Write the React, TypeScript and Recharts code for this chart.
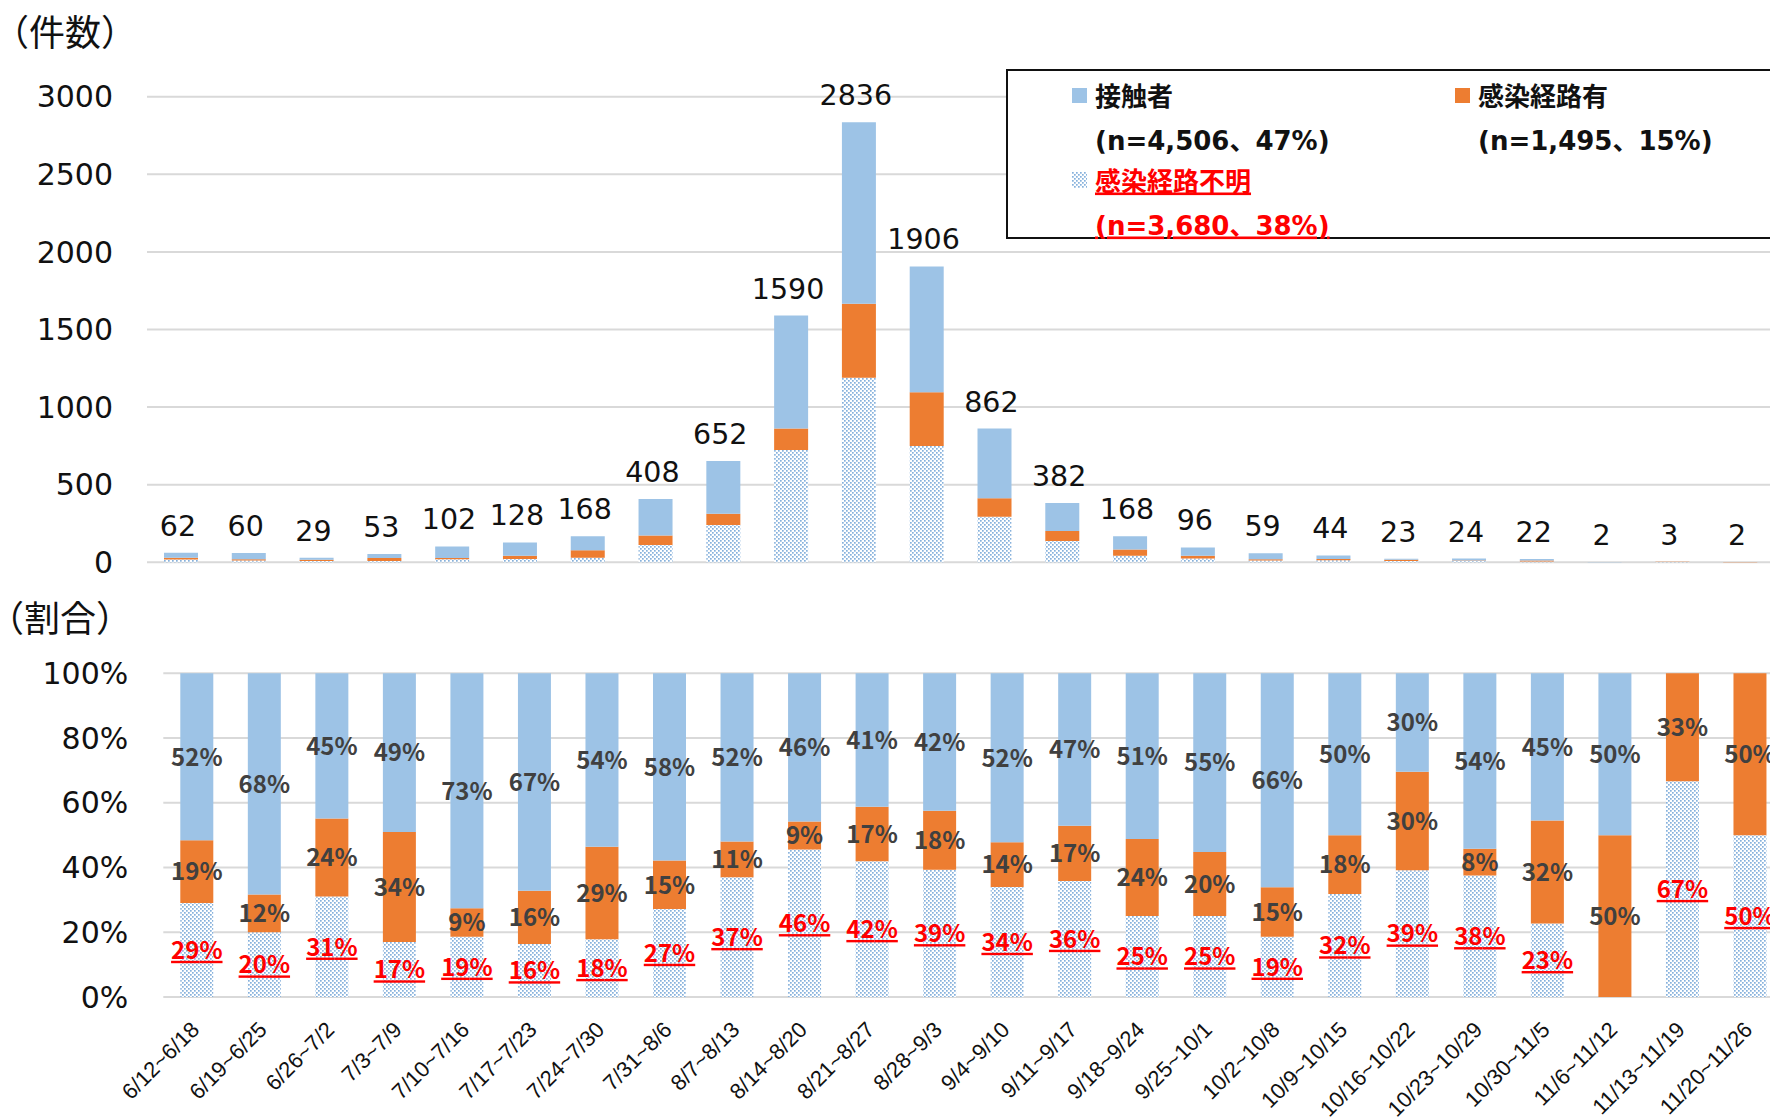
import React from 'react';
import { ComposedChart, BarChart, Bar, Line, XAxis, YAxis, CartesianGrid, LabelList } from 'recharts';

const weeks = ['6/12~6/18', '6/19~6/25', '6/26~7/2', '7/3~7/9', '7/10~7/16', '7/17~7/23', '7/24~7/30', '7/31~8/6', '8/7~8/13', '8/14~8/20', '8/21~8/27', '8/28~9/3', '9/4~9/10', '9/11~9/17', '9/18~9/24', '9/25~10/1', '10/2~10/8', '10/9~10/15', '10/16~10/22', '10/23~10/29', '10/30~11/5', '11/6~11/12', '11/13~11/19', '11/20~11/26'];
const contact = [32, 41, 13, 26, 74, 86, 90, 236, 339, 728, 1170, 810, 450, 180, 86, 53, 39, 22, 7, 13, 10, 1, 0, 0];
const linked = [12, 7, 7, 18, 9, 21, 48, 61, 72, 138, 477, 346, 119, 65, 40, 19, 9, 8, 7, 2, 7, 1, 1, 1];
const unknown = [18, 12, 9, 9, 19, 21, 30, 111, 241, 724, 1189, 750, 293, 137, 42, 24, 11, 14, 9, 9, 5, 0, 2, 1];

const countTicks = [0, 500, 1000, 1500, 2000, 2500, 3000];
const shareTicks = [0, 0.2, 0.4, 0.6, 0.8, 1];

const legendNames = ['接触者', '感染経路有', '感染経路不明'];
const legendCounts = ['(n=4,506、47%)', '(n=1,495、15%)', '(n=3,680、38%)'];

const BLUE = '#9DC3E6';
const ORANGE = '#ED7D31';
const DOT = '#86B1DC';
const RED = '#FF0000';
const DARK = '#404040';
const GRID = '#D9D9D9';
const LATIN = "'DejaVu Sans', 'Noto Sans CJK JP', sans-serif";
const CJK = "'Noto Sans CJK JP', sans-serif";

const totals = weeks.map((_, i) => contact[i] + linked[i] + unknown[i]);
const pct = (arr: number[]) => arr.map((v, i) => Math.round((v / totals[i]) * 100));
const contactPct = pct(contact);
const linkedPct = pct(linked);
const unknownPct = pct(unknown);

const data = weeks.map((w, i) => ({
  week: w,
  contact: contact[i],
  linked: linked[i],
  unknown: unknown[i],
  total: totals[i],
  contactPct: contactPct[i],
  linkedPct: linkedPct[i],
  unknownPct: unknownPct[i],
}));

const TotalLabel = (props: any) => {
  const { x, y, value } = props;
  if (x == null || y == null) return null;
  return (
    <text x={x - 3} y={y - 17} textAnchor="middle" fontFamily={LATIN} fontSize={28.5} fill="#111">
      {value}
    </text>
  );
};

const makePctLabel = (color: string, underline: boolean) => (props: any) => {
  const vb = props.viewBox || {};
  const x = props.x ?? vb.x;
  const y = props.y ?? vb.y;
  const w = props.width ?? vb.width;
  const h = props.height ?? vb.height;
  const value = props.value;
  if (!value) return null;
  const cx = x + w / 2;
  const cy = y + h / 2;
  return (
    <text
      x={cx}
      y={cy + 8.8}
      textAnchor="middle"
      fontFamily={CJK}
      fontWeight={700}
      fontSize={24}
      fill={color}
      textDecoration={underline ? 'underline' : undefined}
    >
      {value}%
    </text>
  );
};

const WeekTick = (props: any) => {
  const { x, y, payload } = props;
  const ax = x + 3.5;
  const ay = y + 34;
  return (
    <text
      x={ax}
      y={ay}
      textAnchor="end"
      transform={`rotate(-45, ${ax}, ${ay})`}
      fontFamily="'Liberation Sans', sans-serif"
      fontSize={22}
      fill="#111"
    >
      {payload.value}
    </text>
  );
};

export default function App() {
  return (
    <div style={{ position: 'fixed', left: 0, top: 0, width: 1770, height: 1118, overflow: 'hidden', background: '#fff' }}>
      <svg width={0} height={0} style={{ position: 'absolute' }}>
        <defs>
          <pattern id="dotPat" patternUnits="userSpaceOnUse" width={4} height={4}>
            <rect x={0} y={0} width={4} height={4} fill="#fff" />
            <rect x={0} y={0} width={1.7} height={1.7} fill={DOT} />
            <rect x={2} y={2} width={1.7} height={1.7} fill={DOT} />
          </pattern>
        </defs>
      </svg>

      <div style={{ position: 'absolute', left: 0, top: 0 }}>
        <ComposedChart width={1774} height={600} data={data} margin={{ top: 96.7, right: 0, bottom: 37.7, left: 0 }}>
          <CartesianGrid horizontal vertical={false} stroke={GRID} strokeWidth={2} />
          <XAxis dataKey="week" hide />
          <YAxis
            domain={[0, 3000]}
            ticks={countTicks}
            width={147}
            axisLine={false}
            tickLine={false}
            tickSize={0}
            tickMargin={34}
            tick={{ fontFamily: LATIN, fontSize: 30, fill: '#111' }}
          />
          <Bar dataKey="unknown" stackId="s" fill="url(#dotPat)" barSize={34} isAnimationActive={false} />
          <Bar dataKey="linked" stackId="s" fill={ORANGE} barSize={34} isAnimationActive={false} />
          <Bar dataKey="contact" stackId="s" fill={BLUE} barSize={34} isAnimationActive={false} />
          <Line dataKey="total" stroke="none" dot={false} activeDot={false} isAnimationActive={false}>
            <LabelList dataKey="total" content={TotalLabel} />
          </Line>
        </ComposedChart>
      </div>

      <div style={{ position: 'absolute', left: 0, top: 600 }}>
        <BarChart width={1784} height={518} data={data} stackOffset="expand" margin={{ top: 73.3, right: 0, bottom: 0, left: 0 }}>
          <CartesianGrid horizontal vertical={false} stroke={GRID} strokeWidth={2} />
          <XAxis
            dataKey="week"
            height={121}
            interval={0}
            axisLine={false}
            tickLine={false}
            tickSize={0}
            tickMargin={0}
            tick={<WeekTick />}
          />
          <YAxis
            domain={[0, 1]}
            ticks={shareTicks}
            width={163.3}
            axisLine={false}
            tickLine={false}
            tickSize={0}
            tickMargin={35}
            tickFormatter={(v: number) => `${Math.round(v * 100)}%`}
            tick={{ fontFamily: LATIN, fontSize: 30, fill: '#111' }}
          />
          <Bar dataKey="unknown" stackId="p" fill="url(#dotPat)" barSize={33} isAnimationActive={false}>
            <LabelList dataKey="unknownPct" content={makePctLabel(RED, true)} />
          </Bar>
          <Bar dataKey="linked" stackId="p" fill={ORANGE} barSize={33} isAnimationActive={false}>
            <LabelList dataKey="linkedPct" content={makePctLabel(DARK, false)} />
          </Bar>
          <Bar dataKey="contact" stackId="p" fill={BLUE} barSize={33} isAnimationActive={false}>
            <LabelList dataKey="contactPct" content={makePctLabel(DARK, false)} />
          </Bar>
        </BarChart>
      </div>

      <svg width={1770} height={1118} style={{ position: 'absolute', left: 0, top: 0, pointerEvents: 'none' }}>
        <text x={-7} y={45.5} fontFamily={CJK} fontSize={36} fill="#111">（件数）</text>
        <text x={-12} y={631.5} fontFamily={CJK} fontSize={36} fill="#111">（割合）</text>

        <rect x={1007} y={70} width={820} height={168} fill="#fff" stroke="#111" strokeWidth={2} />
        <rect x={1072} y={88} width={15} height={15} fill={BLUE} />
        <text x={1095} y={105.5} fontFamily={LATIN} fontWeight={700} fontSize={26} fill="#111">{legendNames[0]}</text>
        <text x={1095} y={149.5} fontFamily={LATIN} fontWeight={700} fontSize={26} fill="#111">{legendCounts[0]}</text>
        <rect x={1455} y={88} width={15} height={15} fill={ORANGE} />
        <text x={1478} y={105.5} fontFamily={LATIN} fontWeight={700} fontSize={26} fill="#111">{legendNames[1]}</text>
        <text x={1478} y={149.5} fontFamily={LATIN} fontWeight={700} fontSize={26} fill="#111">{legendCounts[1]}</text>
        <rect x={1072} y={172} width={15} height={16} fill="url(#dotPat)" />
        <text x={1095} y={190.5} fontFamily={LATIN} fontWeight={700} fontSize={26} fill={RED} textDecoration="underline">{legendNames[2]}</text>
        <text x={1095} y={234.5} fontFamily={LATIN} fontWeight={700} fontSize={26} fill={RED} textDecoration="underline">{legendCounts[2]}</text>
      </svg>
    </div>
  );
}
